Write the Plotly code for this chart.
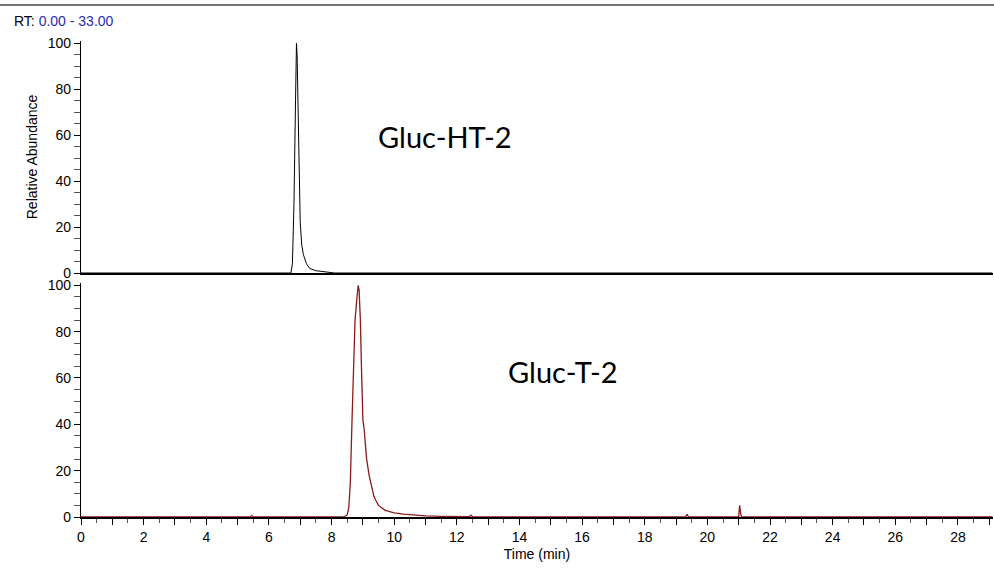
import plotly.graph_objects as go

t_top = [0, 6.70, 6.75, 6.80, 6.85, 6.88, 6.90, 6.93, 6.96, 7.00, 7.05, 7.10, 7.20, 7.30, 7.50, 7.80, 8.00, 8.10, 29.1]
a_top = [0, 0, 4, 30, 75, 100, 95, 75, 45, 22, 12, 8, 4, 2, 1, 0.6, 0.4, 0, 0]

t_bot = [0, 5.4, 5.45, 5.5, 8.40, 8.50, 8.55, 8.60, 8.65, 8.70, 8.75, 8.80, 8.85, 8.88, 8.92, 8.96, 9.00, 9.04, 9.08, 9.12,
         9.20, 9.28, 9.35, 9.42, 9.50, 9.60, 9.70, 9.80, 10.0, 10.3, 10.6, 11.0, 11.5, 12.4, 12.45, 12.5, 13.0,
         19.30, 19.35, 19.40, 21.00, 21.03, 21.07, 21.10, 29.1]
a_bot = [0, 0, 0.6, 0, 0, 1, 4, 15, 40, 65, 85, 93, 100, 98, 85, 62, 42, 38, 32, 25,
         18, 13, 9, 7, 5, 4, 3, 2.5, 1.8, 1.2, 0.8, 0.5, 0.3, 0.2, 0.8, 0.1, 0,
         0, 1.2, 0, 0, 5, 1, 0, 0]

H = 569
L, R = 81, 1
PW = 994 - L - R
def fr(p):
    return 1 - p / H
def fx(p):
    return (p - L) / PW

fig = go.Figure()
fig.add_trace(go.Scatter(x=t_top, y=a_top, mode="lines", line=dict(color="black", width=1), xaxis="x", yaxis="y"))
fig.add_trace(go.Scatter(x=t_bot, y=a_bot, mode="lines", line=dict(color="#8B1A1A", width=1.3), xaxis="x2", yaxis="y2"))

tv = list(range(0, 30))
tt = [str(v) if v % 2 == 0 else "" for v in tv]
axfont = dict(family="Liberation Sans", size=14, color="black")
common_x = dict(range=[0, 29.12], showgrid=False, zeroline=False, showline=True, linecolor="black", linewidth=1.5,
                ticks="outside", ticklen=6, tickcolor="black", tickvals=tv, ticktext=tt, automargin=False,
                minor=dict(dtick=0.5, ticks="outside", ticklen=4, tickcolor="#555"), tickfont=axfont, fixedrange=True)
common_y = dict(showgrid=False, zeroline=False, showline=True, linecolor="black", linewidth=1.2, automargin=False,
                ticks="outside", ticklen=6, tickcolor="black", tickvals=[0, 20, 40, 60, 80, 100],
                minor=dict(dtick=5, ticks="outside", ticklen=6, tickcolor="#555"), tickfont=axfont)

fig.update_layout(
    width=994, height=569, margin=dict(l=L, r=R, t=0, b=0), showlegend=False,
    plot_bgcolor="white", paper_bgcolor="white",
    xaxis=dict(common_x, domain=[0, 1], anchor="y", showticklabels=False, ticks="", minor=dict(ticks="")),
    yaxis=dict(common_y, domain=[fr(273), fr(41)], range=[0, 101],
               title=dict(text="Relative Abundance", font=axfont, standoff=6)),
    xaxis2=dict(common_x, domain=[0, 1], anchor="y2",
                title=dict(text="Time (min)", font=axfont, standoff=6)),
    yaxis2=dict(common_y, domain=[fr(517), fr(283)], range=[0, 101]),
    shapes=[dict(type="line", xref="paper", yref="paper", x0=fx(0), x1=1.01, y0=fr(5), y1=fr(5),
                 line=dict(color="#444", width=1.5))],
    annotations=[
        dict(text="RT: <span style='color:#2b2bb0'>0.00 - 33.00</span>", xref="paper", yref="paper",
             x=fx(12), y=fr(21), xanchor="left", yanchor="middle", showarrow=False, font=axfont),
        dict(text="Gluc-HT-2", xref="paper", yref="paper", x=fx(445), y=fr(117), showarrow=False,
             font=dict(family="Lato", size=29, color="black")),
        dict(text="Gluc-T-2", xref="paper", yref="paper", x=fx(563), y=fr(372), showarrow=False,
             font=dict(family="Lato", size=29, color="black")),
    ],
)
fig.write_html("out.html", config={"displayModeBar": False},
               post_script="document.body.style.margin='0';document.body.style.overflow='hidden';")
